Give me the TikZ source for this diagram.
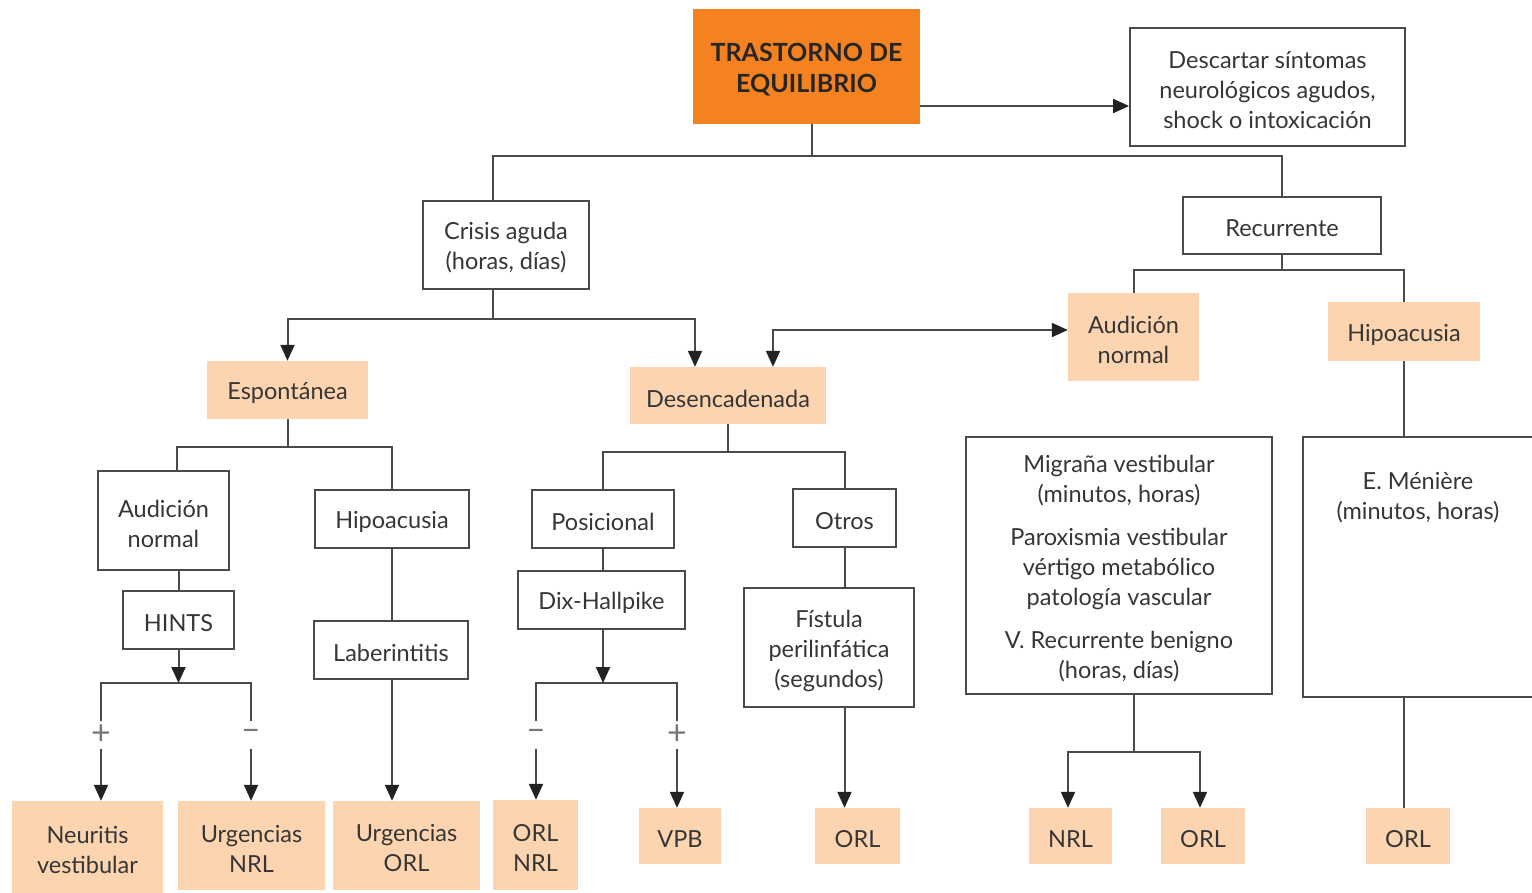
\documentclass[tikz,border=0pt]{standalone}
\usepackage{fontspec}
\setmainfont{Lato}
\usetikzlibrary{arrows.meta}
\definecolor{hdrorange}{HTML}{F58220}
\definecolor{peach}{HTML}{FCD5B0}
\definecolor{linegray}{HTML}{4A4A4A}
\definecolor{textgray}{HTML}{363636}
\definecolor{tipgray}{HTML}{222222}
\tikzset{
  x=1pt, y=-1pt,
  every node/.style={font=\fontsize{23.5}{30}\selectfont, text=textgray, align=center, inner sep=0pt},
  box/.style={draw=linegray, line width=1.8pt},
  fbox/.style={fill=peach},
  ln/.style={draw=linegray, line width=2pt},
  tip/.tip={Triangle[length=16pt,width=14pt,color=tipgray]},
  arr/.style={ln, -tip},
  arrb/.style={ln, tip-tip},
  sign/.style={font=\fontsize{34}{34}\selectfont, text=linegray!75, minimum width=20pt, minimum height=28pt},
}
% box outline (or fill) first, then its text set a little lower
\newcommand{\bx}[6]{%
  \node[#1, minimum width=#4, minimum height=#5] (#2) at #3 {};
  \node (#2t) at ([yshift=-3pt]#2.center) {#6};}
\begin{document}
\begin{tikzpicture}
\useasboundingbox (0,0) rectangle (1532,893);
% top level
\node[fill=hdrorange, minimum width=227, minimum height=115] (top) at (806.5,66.5) {};
\node[font=\fontsize{25}{31}\selectfont\bfseries, text=black!85] (topt) at ([yshift=-3pt]top.center) {TRASTORNO DE\\EQUILIBRIO};
\bx{box}{desc}{(1267.5,87)}{275}{118}{Descartar síntomas\\neurológicos agudos,\\shock o intoxicación}
\bx{box}{crisis}{(506,245)}{166}{88}{Crisis aguda\\(horas, días)}
\bx{box}{recur}{(1282,225.5)}{198}{57}{Recurrente}
\bx{fbox}{espont}{(287.5,390)}{161}{58}{Espontánea}
\bx{fbox}{desenc}{(728,395.5)}{196}{57}{Desencadenada}
\bx{fbox}{audR}{(1133.5,337)}{131}{88}{Audición\\normal}
\bx{fbox}{hipoR}{(1404,331.5)}{152}{59}{Hipoacusia}
% spontaneous branch
\bx{box}{audL}{(163.5,520.5)}{131}{99}{Audición\\normal}
\bx{box}{hints}{(178.5,620)}{111}{58}{HINTS}
\bx{box}{hipoL}{(392,519)}{154}{58}{Hipoacusia}
\bx{box}{laber}{(391,650)}{154}{58}{Laberintitis}
\bx{fbox}{neur}{(87.5,847)}{151}{92}{Neuritis\\vestibular}
\bx{fbox}{urgN}{(251.5,845.5)}{147}{89}{Urgencias\\NRL}
\bx{fbox}{urgO}{(406.5,845.5)}{147}{89}{Urgencias\\ORL}
% triggered branch
\bx{box}{posic}{(603,519)}{142}{58}{Posicional}
\bx{box}{dix}{(601.5,600)}{167}{58}{Dix-Hallpike}
\bx{box}{otros}{(844.5,518)}{103}{58}{Otros}
\bx{box}{fist}{(829,647.5)}{170}{119}{Fístula\\perilinfática\\(segundos)}
\bx{fbox}{orlnrl}{(535.5,845)}{85}{90}{ORL\\NRL}
\bx{fbox}{vpb}{(680,836)}{82}{56}{VPB}
\bx{fbox}{orlA}{(857.5,836)}{85}{56}{ORL}
% recurrent branch
\bx{box}{migr}{(1119,565.5)}{306}{257}{Migraña vestibular\\(minutos, horas)\\[13pt]Paroxismia vestibular\\vértigo metabólico\\patología vascular\\[13pt]V. Recurrente benigno\\(horas, días)}
\node[box, minimum width=237, minimum height=260] (men) at (1421.5,567) {};
\node (mentxt) at (1418,498) {E. Ménière\\(minutos, horas)};
\bx{fbox}{nrlB}{(1070.5,836)}{83}{56}{NRL}
\bx{fbox}{orlB}{(1203,836)}{84}{56}{ORL}
\bx{fbox}{orlC}{(1408,836)}{84}{56}{ORL}
% branch levels
\coordinate (ay) at (0,106);
\coordinate (b1) at (0,156);
\coordinate (b2) at (0,319);
\coordinate (b3) at (0,270);
\coordinate (b4) at (0,447);
\coordinate (b5) at (0,683);
\coordinate (b6) at (0,452);
\coordinate (b7) at (0,683);
\coordinate (b8) at (0,752);
% connectors: top levels
\draw[arr] (ay -| top.east) -- (ay -| desc.west);
\draw[ln] ([xshift=5.5pt]top.south) -- ([xshift=5.5pt]top.south |- b1);
\draw[ln] ([xshift=-13pt]crisis.north) -- ([xshift=-13pt]crisis.north |- b1) -- (recur.north |- b1) -- (recur.north);
\draw[ln] ([xshift=-13pt]crisis.south) -- ([xshift=-13pt]crisis.south |- b2);
\draw[arr] ([xshift=-33pt]desenc.north |- b2) -- (espont.north |- b2) -- (espont.north);
\draw[arr] (espont.north |- b2) -- ([xshift=-33pt]desenc.north |- b2) -- ([xshift=-33pt]desenc.north);
\draw[arrb] ([yshift=7pt]audR.west) -| ([xshift=45pt]desenc.north);
\draw[ln] (recur.south) -- (recur.south |- b3);
\draw[ln] (audR.north) |- (hipoR.north |- b3) -- (hipoR.north);
% spontaneous
\draw[ln] (espont.south) -- (espont.south |- b4);
\draw[ln] ([xshift=13.5pt]audL.north) |- (hipoL.north |- b4) -- (hipoL.north);
\draw[ln] (hints.north |- audL.south) -- (hints.north);
\draw[arr] (hints.south) -- (hints.south |- b5);
\node[sign] (sA) at (101,735) {+};
\node[sign] (sB) at (251,735) {–};
\draw[ln] (sA) |- (hints.south |- b5) -| (sB);
\draw[arr] (sA) -- (sA |- neur.north);
\draw[arr] (sB) -- (sB |- urgN.north);
\draw[ln] (hipoL.south) -- (hipoL.south |- laber.north);
\draw[arr] (hipoL.south |- laber.south) -- (hipoL.south |- urgO.north);
% triggered
\draw[ln] (desenc.south) -- (desenc.south |- b6);
\draw[ln] (posic.north) |- (otros.north |- b6) -- (otros.north);
\draw[ln] (posic.south) -- (posic.south |- dix.north);
\draw[arr] (posic.south |- dix.south) -- (posic.south |- b7);
\node[sign] (sC) at (536,735) {–};
\node[sign] (sD) at (677,735) {+};
\draw[ln] (sC) |- (posic.south |- b7) -| (sD);
\draw[arr] (sC) -- (sC |- orlnrl.north);
\draw[arr] (sD) -- (sD |- vpb.north);
\draw[ln] (otros.south) -- (otros.south |- fist.north);
\draw[arr] (otros.south |- fist.south) -- (otros.south |- orlA.north);
% recurrent
\draw[ln] (hipoR.south) -- (hipoR.south |- men.north);
\draw[ln] (audR.south |- migr.south) -- (audR.south |- b8);
\draw[arr] (audR.south |- b8) -| ([xshift=-2.5pt]nrlB.north);
\draw[arr] (audR.south |- b8) -| ([xshift=-3pt]orlB.north);
\draw[ln] (hipoR.south |- men.south) -- (hipoR.south |- orlC.north);
\end{tikzpicture}
\end{document}
